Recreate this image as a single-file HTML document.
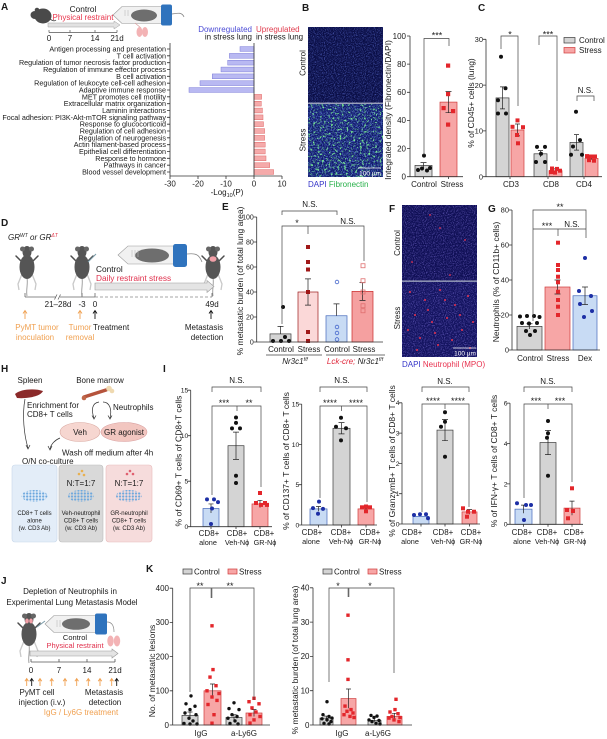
<!DOCTYPE html>
<html><head><meta charset="utf-8"><title>Figure</title>
<style>
html,body{margin:0;padding:0;background:#fff;width:607px;height:739px;overflow:hidden}
svg{display:block;font-family:"Liberation Sans",Arial,sans-serif;fill:#1a1a1a}
text{font-size:8px}
.m{text-anchor:middle}
.e{text-anchor:end}
.b{font-weight:bold;font-size:10px}
.c{font-size:7.2px;text-anchor:end}
.yl{font-size:8.5px;text-anchor:middle}
.s{font-size:9px;text-anchor:middle}
.tk{font-size:7.5px;text-anchor:end}
.ti{font-size:6.8px;text-anchor:end}
.x2{font-size:7.3px;text-anchor:middle}
.ax{stroke:#333;stroke-width:0.8;fill:none}
.br{stroke:#444;stroke-width:0.7;fill:none}
.gb{fill:#d4d4d4;stroke:#3a3a3a;stroke-width:0.7}
.pb{fill:#f7a6a6;stroke:#cf3a3a;stroke-width:0.7}
.lb{fill:#c8dbf4;stroke:#4468bb;stroke-width:0.7}
.er{stroke:#222;stroke-width:0.7;fill:none}
.k{fill:#111}
.r{fill:#e3262b}
.bl{fill:#1d2fa5}
.hb{fill:#b9b9f2;stroke:#7c7cd8;stroke-width:0.5}
.hr{fill:#f5aaaa;stroke:#e06a6a;stroke-width:0.5}
.or{fill:#f0a050}
.osk{stroke:#f0a050;stroke-width:0.9;fill:none}
.ksk{stroke:#111;stroke-width:0.9;fill:none}
.bx{font-size:6px;text-anchor:middle}
</style></head><body>
<svg width="607" height="739" viewBox="0 0 607 739" xmlns="http://www.w3.org/2000/svg">
<defs>
<filter id="nb" x="0" y="0" width="1" height="1">
<feTurbulence type="fractalNoise" baseFrequency="0.9" numOctaves="2" seed="4"/>
<feColorMatrix values="0 0 0 0 0.15  0 0 0 0 0.22  0 0 0 0 0.85  1.6 0 0 0 -0.72"/>
</filter>
<filter id="nb2" x="0" y="0" width="1" height="1">
<feTurbulence type="fractalNoise" baseFrequency="0.8" numOctaves="2" seed="7"/>
<feColorMatrix values="0 0 0 0 0.18  0 0 0 0 0.3  0 0 0 0 0.95  2.0 0 0 0 -0.85"/>
</filter>
<filter id="ng" x="0" y="0" width="1" height="1">
<feTurbulence type="fractalNoise" baseFrequency="0.45" numOctaves="2" seed="9"/>
<feColorMatrix values="0 0 0 0 0.2  0 0 0 0 0.9  0 0 0 0 0.3  5 0 0 0 -2.8"/>
</filter>
<filter id="nf" x="0" y="0" width="1" height="1">
<feTurbulence type="fractalNoise" baseFrequency="0.9" numOctaves="2" seed="12"/>
<feColorMatrix values="0 0 0 0 0.28  0 0 0 0 0.22  0 0 0 0 0.85  1.6 0 0 0 -0.74"/>
</filter>
<pattern id="cp" width="3.2" height="3" patternUnits="userSpaceOnUse">
<circle cx="1.6" cy="1.5" r="1.1" fill="#6aa6dd"/>
</pattern>
<g id="mt">
<path d="M-6,-5 L-11,-10 M6,-5 L11,-10" stroke="#4d4d4d" stroke-width="1.5" stroke-linecap="round"/>
<path d="M-5,8 L-9,18 L-8,24 M5,8 L9,18 L8,24" stroke="#c9c9c9" stroke-width="1.3" fill="none"/>
<path d="M0,12 C1,18 -1,24 0,30" stroke="#8a8a8a" stroke-width="0.8" fill="none"/>
<ellipse cx="0" cy="1" rx="7.5" ry="12" fill="#555"/>
<ellipse cx="0" cy="-14" rx="4.5" ry="6" fill="#555"/>
<circle cx="-4.5" cy="-17" r="2.5" fill="#666"/>
<circle cx="4.5" cy="-17" r="2.5" fill="#666"/>
</g>
</defs>

<!-- ================= PANEL A ================= -->
<text class="b" x="1" y="10">A</text>
<g fill="#4a4a4a">
<ellipse cx="43" cy="16" rx="8.5" ry="7.5"/>
<ellipse cx="35" cy="15" rx="4.5" ry="4"/>
<circle cx="37" cy="10" r="2.3"/>
</g>
<path d="M50,19 q4,3 6,1" stroke="#4a4a4a" stroke-width="0.8" fill="none"/>
<text class="m" x="83" y="12" style="font-size:8.3px">Control</text>
<text class="m" x="83" y="20" fill="#e8334a" style="font-size:8px">Physical restraint</text>
<path d="M48,23 H114 V21 L120,25 L114,29 V27 H48 Z" fill="#e2e2e2" stroke="#a0a0a0" stroke-width="0.5"/>
<path d="M113,15 L122,6.5 H162 V23.5 H122 Z" fill="#f1f1f1" stroke="#9a9a9a" stroke-width="0.6"/>
<ellipse cx="144" cy="15.5" rx="13" ry="6" fill="#6e6e6e"/>
<path d="M125,10 v6 M128,10 v6" stroke="#bbb" stroke-width="0.6"/>
<rect x="161" y="4.5" width="11" height="21" rx="2" fill="#2f73bd"/>
<path d="M172,14 C178,13 182,12 184,17" stroke="#888" stroke-width="0.8" fill="none"/>
<path d="M135,23 L141,28" stroke="#d9a0a0" stroke-width="0.8"/>
<ellipse cx="139.5" cy="32" rx="3" ry="5" fill="#f3b3b5"/>
<ellipse cx="145" cy="32" rx="3" ry="5" fill="#f3b3b5"/>
<path d="M49,32.5 H117 M49,30 V32.5 M70,30 V32.5 M95,30 V32.5 M117,30 V32.5" stroke="#555" stroke-width="0.7"/>
<text class="m" x="49" y="41">0</text>
<text class="m" x="70" y="41">7</text>
<text class="m" x="95" y="41">14</text>
<text class="m" x="117" y="41">21d</text>

<text class="e" x="252" y="32" fill="#4b4bd6">Downregulated</text>
<text x="256" y="32" fill="#e03c4e">Upregulated</text>
<text class="e" x="252" y="39.5">in stress lung</text>
<text x="256" y="39.5">in stress lung</text>

<g>
<rect class="hb" x="240" y="46.6" width="14" height="4.8"/>
<rect class="hb" x="229.4" y="53.43" width="24.6" height="4.8"/>
<rect class="hb" x="227.7" y="60.27" width="26.3" height="4.8"/>
<rect class="hb" x="221" y="67.1" width="33" height="4.8"/>
<rect class="hb" x="212.3" y="73.93" width="41.7" height="4.8"/>
<rect class="hb" x="200" y="80.77" width="54" height="4.8"/>
<rect class="hb" x="189" y="87.6" width="65" height="4.8"/>
<rect class="hr" x="254" y="94.43" width="7.6" height="4.8"/>
<rect class="hr" x="254" y="101.27" width="7.3" height="4.8"/>
<rect class="hr" x="254" y="108.1" width="8.4" height="4.8"/>
<rect class="hr" x="254" y="114.93" width="9" height="4.8"/>
<rect class="hr" x="254" y="121.77" width="9.5" height="4.8"/>
<rect class="hr" x="254" y="128.6" width="10.6" height="4.8"/>
<rect class="hr" x="254" y="135.43" width="10.6" height="4.8"/>
<rect class="hr" x="254" y="142.27" width="11.2" height="4.8"/>
<rect class="hr" x="254" y="149.1" width="11.2" height="4.8"/>
<rect class="hr" x="254" y="155.93" width="12" height="4.8"/>
<rect class="hr" x="254" y="162.77" width="15.7" height="4.8"/>
<rect class="hr" x="254" y="169.6" width="19.6" height="4.8"/>
</g>
<path class="ax" d="M170,43 V176 H282 M254,43 V176 M170,176 V179 M198,176 V179 M226,176 V179 M254,176 V179 M282,176 V179"/>
<path class="ax" d="M167,49 H170 M167,55.83 H170 M167,62.67 H170 M167,69.5 H170 M167,76.33 H170 M167,83.17 H170 M167,90 H170 M167,96.83 H170 M167,103.67 H170 M167,110.5 H170 M167,117.33 H170 M167,124.17 H170 M167,131 H170 M167,137.83 H170 M167,144.67 H170 M167,151.5 H170 M167,158.33 H170 M167,165.17 H170 M167,172 H170"/>
<text class="c" x="166" y="51.5">Antigen processing and presentation</text>
<text class="c" x="166" y="58.33">T cell activation</text>
<text class="c" x="166" y="65.17">Regulation of tumor necrosis factor production</text>
<text class="c" x="166" y="72">Regulation of immune effector process</text>
<text class="c" x="166" y="78.83">B cell activation</text>
<text class="c" x="166" y="85.67">Regulation of leukocyte cell-cell adhesion</text>
<text class="c" x="166" y="92.5">Adaptive immune response</text>
<text class="c" x="166" y="99.33">MET promotes cell motility</text>
<text class="c" x="166" y="106.17">Extracellular matrix organization</text>
<text class="c" x="166" y="113">Laminin interactions</text>
<text class="c" x="166" y="119.83">Focal adhesion: PI3K-Akt-mTOR signaling pathway</text>
<text class="c" x="166" y="126.67">Response to glucocorticoid</text>
<text class="c" x="166" y="133.5">Regulation of cell adhesion</text>
<text class="c" x="166" y="140.33">Regulation of neurogenesis</text>
<text class="c" x="166" y="147.17">Actin filament-based process</text>
<text class="c" x="166" y="154">Epithelial cell differentiation</text>
<text class="c" x="166" y="160.83">Response to hormone</text>
<text class="c" x="166" y="167.67">Pathways in cancer</text>
<text class="c" x="166" y="174.5">Blood vessel development</text>
<text class="m" x="170" y="186.5">-30</text>
<text class="m" x="198" y="186.5">-20</text>
<text class="m" x="226" y="186.5">-10</text>
<text class="m" x="254" y="186.5">0</text>
<text class="m" x="282" y="186.5">10</text>
<text class="m" x="227" y="195">-Log<tspan font-size="5.5" dy="2">10</tspan><tspan dy="-2">(P)</tspan></text>

<!-- ================= PANEL B ================= -->
<text class="b" x="302" y="11">B</text>
<rect x="308" y="27" width="75" height="150" fill="#0a0e46"/>
<rect x="308" y="27" width="75" height="76" filter="url(#nb)"/>
<rect x="308" y="104" width="75" height="73" fill="#0f1868"/>
<rect x="308" y="104" width="75" height="73" filter="url(#nb2)"/>
<rect x="308" y="104" width="75" height="73" filter="url(#ng)"/>
<rect x="308" y="102.6" width="75" height="1.3" fill="#aab0c8"/>
<path d="M358,168 H381" stroke="#fff" stroke-width="0.8"/>
<text class="m" x="370" y="175.5" fill="#fff" style="font-size:6.5px">100 µm</text>
<text transform="translate(305.5,63) rotate(-90)" class="m">Control</text>
<text transform="translate(305.5,140) rotate(-90)" class="m">Stress</text>
<text x="308" y="187"><tspan fill="#3535c8">DAPI</tspan> <tspan fill="#28b04a">Fibronectin</tspan></text>

<text class="yl" transform="translate(391,110) rotate(-90)">Integrated density (Fibronectin/DAPI)</text>
<rect class="gb" x="415" y="165.4" width="17" height="11.3"/>
<rect class="pb" x="440" y="102.1" width="17" height="74.6"/>
<path class="er" d="M423.5,162.6 V168.3 M420.5,162.6 H426.5 M448.5,91.6 V112.7 M445.5,91.6 H451.5 M445.5,112.7 H451.5"/>
<circle class="k" cx="424" cy="155.6" r="2"/>
<circle class="k" cx="418" cy="170" r="2"/>
<circle class="k" cx="422" cy="168.5" r="2"/>
<circle class="k" cx="427" cy="170.5" r="2"/>
<circle class="k" cx="430" cy="168" r="2"/>
<rect class="r" x="446" y="63.5" width="4.2" height="4.2"/>
<rect class="r" x="446" y="92" width="4.2" height="4.2"/>
<rect class="r" x="441.5" y="106" width="4.2" height="4.2"/>
<rect class="r" x="451" y="109" width="4.2" height="4.2"/>
<rect class="r" x="446" y="122.5" width="4.2" height="4.2"/>
<path class="ax" d="M410,36 V176.7 H463 M407,36 H410 M407,64.1 H410 M407,92.3 H410 M407,120.4 H410 M407,148.6 H410 M407,176.7 H410 M423.5,176.7 V179 M448.5,176.7 V179"/>
<text class="e" x="406" y="38.8">100</text>
<text class="e" x="406" y="66.9">80</text>
<text class="e" x="406" y="95.1">60</text>
<text class="e" x="406" y="123.2">40</text>
<text class="e" x="406" y="151.4">20</text>
<text class="e" x="406" y="179.5">0</text>
<text class="m" x="424" y="187">Control</text>
<text class="m" x="452" y="187">Stress</text>
<path class="br" d="M424,155 V38.5 H449 V46"/>
<text class="s" x="437" y="38.5">***</text>

<!-- ================= PANEL C ================= -->
<text class="b" x="478" y="11">C</text>
<text class="yl" transform="translate(474,103) rotate(-90)">% of CD45+ cells (lung)</text>
<rect class="gb" x="496" y="97.9" width="13" height="78.8"/>
<rect class="pb" x="511" y="130" width="13" height="46.7"/>
<rect class="gb" x="534" y="153.8" width="13" height="22.9"/>
<rect class="pb" x="549" y="170.7" width="13" height="6"/>
<rect class="gb" x="570" y="142.4" width="13" height="34.3"/>
<rect class="pb" x="585" y="158.4" width="13" height="18.3"/>
<path class="er" d="M502.5,86.9 V108.9 M500,86.9 H505 M500,108.9 H505 M517.5,124 V135.9 M515,124 H520 M515,135.9 H520 M540.5,150.6 V157 M538,150.6 H543 M555.5,168.9 V172.6 M553,168.9 H558 M576.5,134.6 V150.1 M574,134.6 H579 M574,150.1 H579 M591.5,157 V159.8 M589,157 H594"/>
<circle class="k" cx="501" cy="56.7" r="2"/>
<circle class="k" cx="505.5" cy="88.3" r="2"/>
<circle class="k" cx="498" cy="100.2" r="2"/>
<circle class="k" cx="498" cy="113.5" r="2"/>
<circle class="k" cx="506" cy="113.5" r="2"/>
<rect class="r" x="515.5" y="118.4" width="4" height="4"/>
<rect class="r" x="510.5" y="124.8" width="4" height="4"/>
<rect class="r" x="521" y="125.2" width="4" height="4"/>
<rect class="r" x="515" y="133" width="4" height="4"/>
<rect class="r" x="516" y="141.3" width="4" height="4"/>
<circle class="k" cx="537" cy="146.9" r="2"/>
<circle class="k" cx="545" cy="146.9" r="2"/>
<circle class="k" cx="541" cy="153.8" r="2"/>
<circle class="k" cx="536" cy="162" r="2"/>
<circle class="k" cx="545" cy="162" r="2"/>
<rect class="r" x="550" y="166.5" width="4" height="4"/>
<rect class="r" x="555" y="166.9" width="4" height="4"/>
<rect class="r" x="558" y="168.7" width="4" height="4"/>
<rect class="r" x="553" y="170.6" width="4" height="4"/>
<rect class="r" x="549" y="170.1" width="4" height="4"/>
<circle class="k" cx="576" cy="111.7" r="2"/>
<circle class="k" cx="580" cy="140.1" r="2"/>
<circle class="k" cx="573" cy="146.5" r="2"/>
<circle class="k" cx="571" cy="154.7" r="2"/>
<circle class="k" cx="582" cy="154.7" r="2"/>
<rect class="r" x="585" y="154.1" width="4" height="4"/>
<rect class="r" x="589" y="154.5" width="4" height="4"/>
<rect class="r" x="593" y="154.5" width="4" height="4"/>
<rect class="r" x="587" y="158.2" width="4" height="4"/>
<rect class="r" x="592" y="158.7" width="4" height="4"/>
<path class="ax" d="M486,39.3 V176.7 H602 M483,39.3 H486 M483,85.1 H486 M483,130.9 H486 M483,176.7 H486 M510,176.7 V179 M548,176.7 V179 M584,176.7 V179"/>
<text class="tk" x="483" y="42">30</text>
<text class="tk" x="483" y="87.8">20</text>
<text class="tk" x="483" y="133.6">10</text>
<text class="tk" x="483" y="179.4">0</text>
<text class="m" x="511" y="187">CD3</text>
<text class="m" x="551" y="187">CD8</text>
<text class="m" x="584" y="187">CD4</text>
<path class="br" d="M501,49 V36 H518 V106 M539,45 V36 H557 V161 M577,101 V96 H594 V101"/>
<text class="s" x="510" y="37.5">*</text>
<text class="s" x="548" y="37.5">***</text>
<text class="m" x="585.5" y="93">N.S.</text>
<rect class="gb" x="564" y="37.5" width="11" height="5.5"/>
<text x="579" y="43">Control</text>
<rect class="pb" x="564" y="47.5" width="11" height="5.5"/>
<text x="579" y="53">Stress</text>

<!-- ================= PANEL D ================= -->
<text class="b" x="1" y="226">D</text>
<text x="8" y="240" font-style="italic">GR<tspan font-size="5" dy="-3">WT</tspan><tspan dy="3"> or GR</tspan><tspan font-size="5" dy="-3" fill="#e0283c">ΔT</tspan></text>
<use href="#mt" x="27" y="266"/>
<use href="#mt" x="82" y="266"/>
<path d="M88,262 L96,254" stroke="#7a9aa8" stroke-width="1"/>
<use href="#mt" x="213" y="266"/>
<ellipse cx="213" cy="259" rx="3.5" ry="2.8" fill="#f2a0a8"/>
<path d="M118,255 L128,246 H174 V264 H128 Z" fill="#f1f1f1" stroke="#9a9a9a" stroke-width="0.6"/>
<ellipse cx="152" cy="255.5" rx="17" ry="7" fill="#6e6e6e"/>
<path d="M132,250 v7 M135,250 v7 M138,250 v7" stroke="#bbb" stroke-width="0.6"/>
<rect x="173" y="244" width="14" height="23" rx="2.5" fill="#2f73bd"/>
<path d="M187,254 C195,253 199,254 202,262" stroke="#888" stroke-width="0.8" fill="none"/>
<text x="96" y="272" style="font-size:8.3px">Control</text>
<text x="96" y="281" fill="#e0304c" style="font-size:8.3px">Daily restraint stress</text>
<path d="M95,283 H207 V280.5 L214,286.5 L207,292.5 V290 H95 Z" fill="#e4e4e4" stroke="#9a9a9a" stroke-width="0.6"/>
<path d="M25,297 H56 M60,297 H95 M54.5,299.5 L57,294.5 M58,299.5 L60.5,294.5 M25,293 V297 M82,293 V297 M95,293 V297 M212,293 V297" stroke="#666" stroke-width="0.8" fill="none"/>
<path d="M95,297 H212" stroke="#888" stroke-width="0.8" stroke-dasharray="3,2"/>
<text class="m" x="58" y="307">21–28d</text>
<text class="m" x="82" y="307">-3</text>
<text class="m" x="95" y="307">0</text>
<text class="m" x="212" y="307">49d</text>
<path class="osk" d="M25,319 V311 M23,313.5 L25,310.5 L27,313.5 M80,319 V311 M78,313.5 L80,310.5 L82,313.5"/>
<path class="ksk" d="M95,319 V311 M93,313.5 L95,310.5 L97,313.5 M211,319 V311 M209,313.5 L211,310.5 L213,313.5"/>
<text class="m" x="37" y="330" fill="#f0a050">PyMT tumor</text>
<text class="m" x="35" y="340" fill="#f0a050">inoculation</text>
<text class="m" x="80" y="330" fill="#f0a050">Tumor</text>
<text class="m" x="80" y="340" fill="#f0a050">removal</text>
<text x="93" y="330">Treatment</text>
<text class="m" x="204" y="330">Metastasis</text>
<text class="m" x="207" y="340">detection</text>

<!-- ================= PANEL E ================= -->
<text class="b" x="222" y="210">E</text>
<text class="yl" transform="translate(243,281) rotate(-90)">% metastatic burden (of total lung area)</text>
<rect class="gb" x="270" y="333.9" width="21" height="8.1"/>
<rect x="298" y="292" width="20" height="50" fill="#fbd8d8" stroke="#9b1b1b" stroke-width="0.7"/>
<rect class="lb" x="326" y="315.75" width="21" height="26.25"/>
<rect x="352" y="291.4" width="21" height="50.6" fill="#f5a0a0" stroke="#c82828" stroke-width="0.7"/>
<path class="er" d="M280.5,326.4 V333.9 M277.5,326.4 H283.5 M308,278.9 V305.1 M305,278.9 H311 M305,305.1 H311 M336.5,303.9 V315.75 M333.5,303.9 H339.5 M362.5,282.6 V300.4 M359.5,282.6 H365.5 M359.5,300.4 H365.5"/>
<circle class="k" cx="283" cy="307" r="2"/>
<circle class="k" cx="273" cy="341" r="2"/>
<circle class="k" cx="281" cy="341" r="2"/>
<circle class="k" cx="289" cy="341" r="2"/>
<circle class="k" cx="285" cy="337" r="2"/>
<g fill="#a01818">
<rect x="306" y="245" width="4" height="4"/>
<rect x="306" y="260" width="4" height="4"/>
<rect x="306" y="267.5" width="4" height="4"/>
<rect x="306" y="290" width="4" height="4"/>
<rect x="306" y="330" width="4" height="4"/>
<rect x="306" y="339" width="4" height="4"/>
</g>
<g fill="none" stroke="#4466cc" stroke-width="0.8">
<circle cx="337" cy="282" r="1.8"/>
<circle cx="337" cy="327" r="1.8"/>
<circle cx="337" cy="333" r="1.8"/>
<circle cx="337" cy="339.5" r="1.8"/>
</g>
<g fill="none" stroke="#e07070" stroke-width="0.8">
<rect x="361" y="263.75" width="4" height="4"/>
<rect x="361" y="278.75" width="4" height="4"/>
<rect x="361" y="290" width="4" height="4"/>
<rect x="361" y="303.75" width="4" height="4"/>
<rect x="361" y="308.75" width="4" height="4"/>
</g>
<path class="ax" d="M256.7,217 V342 H383 M253.7,217 H256.7 M253.7,242 H256.7 M253.7,267 H256.7 M253.7,292 H256.7 M253.7,317 H256.7 M253.7,342 H256.7"/>
<text class="e" x="253.8" y="219.6" style="font-size:7px">100</text>
<text class="e" x="253.8" y="244.6" style="font-size:7px">80</text>
<text class="e" x="253.8" y="269.6" style="font-size:7px">60</text>
<text class="e" x="253.8" y="294.6" style="font-size:7px">40</text>
<text class="e" x="253.8" y="319.6" style="font-size:7px">20</text>
<text class="e" x="253.8" y="344.6" style="font-size:7px">0</text>
<text class="m" x="281" y="352">Control</text>
<text class="m" x="309" y="352">Stress</text>
<text class="m" x="337" y="352">Control</text>
<text class="m" x="364" y="352">Stress</text>
<path d="M266,355 H322 M326,355 H385" stroke="#444" stroke-width="0.7"/>
<text class="m" x="295" y="364" font-style="italic">Nr3c1<tspan font-size="5" dy="-3">f/f</tspan></text>
<text class="m" x="355" y="364" font-style="italic"><tspan fill="#e0283c">Lck-cre;</tspan> Nr3c1<tspan font-size="5" dy="-3">f/f</tspan></text>
<path class="br" d="M282,215 V211 H337 V215"/>
<path class="br" d="M282,324 V226 H364 V261 M308,226 V234"/>
<text class="m" x="310" y="207">N.S.</text>
<text class="s" x="297" y="226">*</text>
<text class="m" x="348" y="224">N.S.</text>

<!-- ================= PANEL F ================= -->
<text class="b" x="389" y="212">F</text>
<rect x="402" y="205" width="75" height="152" fill="#0f0f55"/>
<rect x="402" y="205" width="75" height="76" filter="url(#nf)"/>
<rect x="402" y="282" width="75" height="75" fill="#13135f"/>
<rect x="402" y="282" width="75" height="75" filter="url(#nf)"/>
<rect x="402" y="280.5" width="75" height="1.3" fill="#aab0c8"/>
<g fill="#e8324f">
<circle cx="430" cy="215" r="0.9"/><circle cx="465" cy="240" r="0.9"/><circle cx="412" cy="262" r="0.9"/><circle cx="450" cy="275" r="0.9"/><circle cx="440" cy="228" r="0.9"/>
<circle cx="410" cy="292" r="1"/><circle cx="425" cy="300" r="1"/><circle cx="440" cy="290" r="1"/><circle cx="455" cy="305" r="1"/><circle cx="468" cy="296" r="1"/>
<circle cx="415" cy="315" r="1"/><circle cx="432" cy="322" r="1"/><circle cx="447" cy="318" r="1"/><circle cx="462" cy="330" r="1"/><circle cx="420" cy="338" r="1"/>
<circle cx="438" cy="345" r="1"/><circle cx="452" cy="340" r="1"/><circle cx="470" cy="348" r="1"/><circle cx="408" cy="330" r="1"/><circle cx="428" cy="310" r="1"/>
<circle cx="445" cy="300" r="1"/><circle cx="460" cy="315" r="1"/><circle cx="473" cy="322" r="1"/><circle cx="417" cy="350" r="1"/><circle cx="435" cy="333" r="1"/>
</g>
<path d="M453,348 H476" stroke="#fff" stroke-width="0.8"/>
<text class="m" x="465" y="355.5" fill="#fff" style="font-size:6.5px">100 µm</text>
<text transform="translate(400,243) rotate(-90)" class="m">Control</text>
<text transform="translate(400,318) rotate(-90)" class="m">Stress</text>
<text x="402" y="367"><tspan fill="#3535c8">DAPI</tspan> <tspan fill="#e8324f">Neutrophil (MPO)</tspan></text>

<!-- ================= PANEL G ================= -->
<text class="b" x="488" y="212">G</text>
<text class="yl" transform="translate(499,282) rotate(-90)">Neutrophils (% of CD11b+ cells)</text>
<rect class="gb" x="517" y="326.4" width="25" height="23.6"/>
<rect class="pb" x="545" y="287" width="25" height="63"/>
<rect class="lb" x="573" y="295.75" width="24" height="54.25"/>
<path class="er" d="M529.5,323.75 V329 M526.5,323.75 H532.5 M557.5,280 V294 M554.5,280 H560.5 M554.5,294 H560.5 M585,287 V304.5 M582,287 H588 M582,304.5 H588"/>
<circle class="k" cx="520" cy="316.5" r="2"/>
<circle class="k" cx="527" cy="316" r="2"/>
<circle class="k" cx="534" cy="316" r="2"/>
<circle class="k" cx="539.5" cy="317" r="2"/>
<circle class="k" cx="522" cy="323" r="2"/>
<circle class="k" cx="529" cy="323.5" r="2"/>
<circle class="k" cx="537" cy="323" r="2"/>
<circle class="k" cx="526" cy="331" r="2"/>
<circle class="k" cx="535" cy="331" r="2"/>
<circle class="k" cx="530" cy="335" r="2"/>
<rect class="r" x="556" y="240.7" width="4" height="4"/>
<rect class="r" x="556" y="263" width="4" height="4"/>
<rect class="r" x="556" y="268" width="4" height="4"/>
<rect class="r" x="556" y="274.7" width="4" height="4"/>
<rect class="r" x="556" y="280.3" width="4" height="4"/>
<rect class="r" x="556" y="289.7" width="4" height="4"/>
<rect class="r" x="556" y="298" width="4" height="4"/>
<rect class="r" x="556" y="304.7" width="4" height="4"/>
<rect class="r" x="556" y="313" width="4" height="4"/>
<circle class="bl" cx="585" cy="258" r="2"/>
<circle class="bl" cx="579" cy="291" r="2"/>
<circle class="bl" cx="591" cy="296" r="2"/>
<circle class="bl" cx="580" cy="304" r="2"/>
<circle class="bl" cx="592" cy="311" r="2"/>
<circle class="bl" cx="584" cy="317" r="2"/>
<path class="ax" d="M512,210 V350 H600 M509,210 H512 M509,245 H512 M509,280 H512 M509,315 H512 M509,350 H512"/>
<text class="tk" x="509" y="212.7">80</text>
<text class="tk" x="509" y="247.7">60</text>
<text class="tk" x="509" y="282.7">40</text>
<text class="tk" x="509" y="317.7">20</text>
<text class="tk" x="509" y="352.7">0</text>
<text class="m" x="530" y="361">Control</text>
<text class="m" x="558" y="361">Stress</text>
<text class="m" x="585" y="361">Dex</text>
<path class="br" d="M533,321 V210 H586 V238 M533,229 H586 M558,229 V236"/>
<text class="s" x="560" y="210">**</text>
<text class="s" x="547" y="229">***</text>
<text class="m" x="572" y="227">N.S.</text>

<!-- ================= PANEL H ================= -->
<text class="b" x="1" y="372">H</text>
<text class="m" x="30" y="383">Spleen</text>
<text class="m" x="100" y="383">Bone marrow</text>
<path d="M15,394 C20,389 35,388 43,391 C41,396 28,399 17,398 Z" fill="#8b2a2a"/>
<path d="M84,397 L106,390" stroke="#b5533c" stroke-width="3.5" stroke-linecap="round"/>
<circle cx="84" cy="398" r="2.3" fill="#c0684a"/>
<circle cx="109" cy="388.5" r="2.8" fill="#efd9b0"/>
<circle cx="112" cy="391" r="2.3" fill="#efd9b0"/>
<text x="27" y="408">Enrichment for</text>
<text x="27" y="417">CD8+ T cells</text>
<text x="113" y="410">Neutrophils</text>
<path d="M99,402 C92,403 91,410 94,418" stroke="#333" stroke-width="0.7" fill="none"/>
<path d="M92,415.5 L94,419 L96,415.5" stroke="#333" stroke-width="0.7" fill="none"/>
<path d="M103,402 C110,402 112,410 110,418" stroke="#333" stroke-width="0.7" fill="none"/>
<path d="M108,415.5 L110,419 L112,415.5" stroke="#333" stroke-width="0.7" fill="none"/>
<path d="M25,399 C22,415 24,435 28,448" stroke="#333" stroke-width="0.7" fill="none"/>
<path d="M26,445 L28,449 L30,445" stroke="#333" stroke-width="0.7" fill="none"/>
<path d="M60,438 C55,440 51,444 50,449" stroke="#333" stroke-width="0.7" fill="none"/>
<path d="M48,446 L50,450 L52,446" stroke="#333" stroke-width="0.7" fill="none"/>
<ellipse cx="80" cy="432" rx="20" ry="9.5" fill="#f6d6d0" stroke="#d9a8a0" stroke-width="0.6"/>
<ellipse cx="124" cy="432" rx="23" ry="9.5" fill="#f2c6c0" stroke="#d9a0a0" stroke-width="0.6"/>
<text class="m" x="80" y="435">Veh</text>
<text class="m" x="124" y="435">GR agonist</text>
<text x="62" y="455.5">Wash off medium after 4h</text>
<text x="22" y="464">O/N co-culture</text>
<rect x="12" y="465" width="45" height="77" rx="3" fill="#e3edf8" stroke="#c8d8ea" stroke-width="0.6"/>
<rect x="59" y="465" width="44" height="77" rx="3" fill="#d9d9d9" stroke="#bdbdbd" stroke-width="0.6"/>
<rect x="106" y="465" width="46" height="77" rx="3" fill="#f6dcdc" stroke="#e8bbbb" stroke-width="0.6"/>
<g fill="#e8b050"><circle cx="79" cy="474" r="1.3"/><circle cx="82" cy="471" r="1.3"/><circle cx="84" cy="475" r="1.3"/></g>
<g fill="#e06070"><circle cx="127" cy="474" r="1.3"/><circle cx="130" cy="471" r="1.3"/><circle cx="133" cy="474" r="1.3"/></g>
<text class="m" x="81" y="486">N:T=1:7</text>
<text class="m" x="129" y="486">N:T=1:7</text>
<ellipse cx="34.5" cy="496" rx="13" ry="6" fill="url(#cp)"/>
<ellipse cx="81" cy="496" rx="13" ry="6" fill="url(#cp)"/>
<ellipse cx="129" cy="496" rx="13" ry="6" fill="url(#cp)"/>
<text class="bx" x="34.5" y="515">CD8+ T cells</text>
<text class="bx" x="34.5" y="522.5">alone</text>
<text class="bx" x="34.5" y="530">(w. CD3 Ab)</text>
<text class="bx" x="81" y="515">Veh-neutrophil</text>
<text class="bx" x="81" y="522.5">CD8+ T cells</text>
<text class="bx" x="81" y="530">(w. CD3 Ab)</text>
<text class="bx" x="129" y="515">GR-neutrophil</text>
<text class="bx" x="129" y="522.5">CD8+ T cells</text>
<text class="bx" x="129" y="530">(w. CD3 Ab)</text>

<!-- ================= PANEL I ================= -->
<text class="b" x="163" y="372">I</text>
<!-- I1 -->
<text class="yl" transform="translate(181.5,461) rotate(-90)">% of CD69+ T cells of CD8+T cells</text>
<rect class="lb" x="203" y="508.5" width="16" height="18.2"/>
<rect class="gb" x="228" y="445.7" width="16" height="81"/>
<rect class="pb" x="252" y="503.95" width="16" height="22.75"/>
<path class="er" d="M211,503.95 V513.05 M208.5,503.95 H213.5 M236,432.1 V459.4 M233,432.1 H239 M233,459.4 H239 M260,500.3 V507.6 M257.5,500.3 H262.5"/>
<circle class="bl" cx="207" cy="499.4" r="2"/><circle class="bl" cx="214" cy="499.4" r="2"/><circle class="bl" cx="218" cy="502.1" r="2"/><circle class="bl" cx="212" cy="508.5" r="2"/><circle class="bl" cx="211" cy="524" r="2"/>
<circle class="k" cx="236" cy="417.5" r="2"/><circle class="k" cx="236" cy="422.9" r="2"/><circle class="k" cx="232" cy="428.4" r="2"/><circle class="k" cx="240" cy="428.4" r="2"/><circle class="k" cx="236" cy="475.7" r="2"/><circle class="k" cx="236" cy="483" r="2"/>
<rect class="r" x="258" y="491" width="4" height="4"/><rect class="r" x="254" y="501" width="4" height="4"/><rect class="r" x="259" y="502.9" width="4" height="4"/><rect class="r" x="263" y="501" width="4" height="4"/><rect class="r" x="265" y="502.9" width="4" height="4"/>
<path class="ax" d="M190.7,390.2 V526.7 H272 M187.7,390.2 H190.7 M187.7,435.7 H190.7 M187.7,481.2 H190.7 M187.7,526.7 H190.7 M211,526.7 V529 M236,526.7 V529 M260,526.7 V529"/>
<text class="ti" x="188.3" y="392.6">15</text>
<text class="ti" x="188.3" y="438.1">10</text>
<text class="ti" x="188.3" y="483.6">5</text>
<text class="ti" x="188.3" y="529.1">0</text>
<text class="m" x="209" y="536">CD8+</text><text class="m" x="237" y="536">CD8+</text><text class="m" x="264" y="536">CD8+</text>
<text class="x2" x="208" y="545">alone</text><text class="x2" x="237" y="545">Veh-Nϕ</text><text class="x2" x="265" y="545">GR-Nϕ</text>
<path class="br" d="M212,392 V387 H261 V392 M212,495 V406 H261 V487 M237,406 V411"/>
<text class="m" x="237" y="383">N.S.</text>
<text class="s" x="224" y="406">***</text>
<text class="s" x="249" y="406">**</text>

<!-- I2 -->
<text class="yl" transform="translate(289,461) rotate(-90)">% of CD137+ T cells of CD8+ T cells</text>
<rect class="lb" x="310" y="508.9" width="17" height="16.1"/>
<rect class="gb" x="333" y="428.3" width="17" height="96.7"/>
<rect class="pb" x="358" y="508.9" width="16" height="16.1"/>
<path class="er" d="M318.5,506.5 V511.3 M316,506.5 H321 M341.5,422.6 V433.9 M338.5,422.6 H344.5 M338.5,433.9 H344.5 M366,507.3 V510.5 M363.5,507.3 H368.5"/>
<circle class="bl" cx="319" cy="501.6" r="2"/><circle class="bl" cx="313" cy="508.1" r="2"/><circle class="bl" cx="323" cy="508.9" r="2"/><circle class="bl" cx="318" cy="513.7" r="2"/>
<circle class="k" cx="341" cy="417.8" r="2"/><circle class="k" cx="336" cy="426.7" r="2"/><circle class="k" cx="346" cy="428.3" r="2"/><circle class="k" cx="341" cy="440.4" r="2"/>
<rect class="r" x="360" y="505.3" width="4" height="4"/><rect class="r" x="364" y="504.5" width="4" height="4"/><rect class="r" x="368" y="505.3" width="4" height="4"/><rect class="r" x="364" y="509.3" width="4" height="4"/>
<path class="ax" d="M301.7,404.1 V525 H377 M298.7,404.1 H301.7 M298.7,444.4 H301.7 M298.7,484.7 H301.7 M298.7,525 H301.7 M318.5,525 V527.5 M341.5,525 V527.5 M366,525 V527.5"/>
<text class="ti" x="299.3" y="406.5">15</text>
<text class="ti" x="299.3" y="446.8">10</text>
<text class="ti" x="299.3" y="487.1">5</text>
<text class="ti" x="299.3" y="527.4">0</text>
<text class="m" x="312" y="535">CD8+</text><text class="m" x="341" y="535">CD8+</text><text class="m" x="370" y="535">CD8+</text>
<text class="x2" x="311" y="544">alone</text><text class="x2" x="341" y="544">Veh-Nϕ</text><text class="x2" x="370" y="544">GR-Nϕ</text>
<path class="br" d="M320,392 V387 H367 V392 M320,498 V406 H367 V502 M341.5,406 V411"/>
<text class="m" x="342" y="383">N.S.</text>
<text class="s" x="330" y="406">****</text>
<text class="s" x="356" y="406">****</text>

<!-- I3 -->
<text class="yl" transform="translate(395,461) rotate(-90)">% of GranzymB+ T cells of CD8+ T cells</text>
<rect class="lb" x="413" y="516.4" width="16" height="7.6"/>
<rect class="gb" x="437" y="430.1" width="16" height="93.9"/>
<rect class="pb" x="462" y="511.9" width="15" height="12.1"/>
<path class="er" d="M445,419.5 V440.7 M442,419.5 H448 M442,440.7 H448 M469.5,509.5 V514.3 M467,509.5 H472"/>
<circle class="bl" cx="414" cy="515" r="2"/><circle class="bl" cx="420" cy="514.3" r="2"/><circle class="bl" cx="426" cy="514.3" r="2"/><circle class="bl" cx="428" cy="518.3" r="2"/>
<circle class="k" cx="445" cy="412.3" r="2"/><circle class="k" cx="445" cy="421.7" r="2"/><circle class="k" cx="441" cy="426.7" r="2"/><circle class="k" cx="445" cy="456.7" r="2"/>
<rect class="r" x="461" y="506.3" width="4" height="4"/><rect class="r" x="466" y="509.7" width="4" height="4"/><rect class="r" x="472" y="509.7" width="4" height="4"/><rect class="r" x="465" y="514.7" width="4" height="4"/>
<path class="ax" d="M402,402.8 V524 H480 M399,402.8 H402 M399,433.1 H402 M399,463.4 H402 M399,493.7 H402 M399,524 H402 M421,524 V526.5 M445,524 V526.5 M469.5,524 V526.5"/>
<text class="ti" x="399.5" y="405.2">4</text>
<text class="ti" x="399.5" y="435.5">3</text>
<text class="ti" x="399.5" y="465.8">2</text>
<text class="ti" x="399.5" y="496.1">1</text>
<text class="ti" x="399.5" y="526.4">0</text>
<text class="m" x="412" y="535">CD8+</text><text class="m" x="443" y="535">CD8+</text><text class="m" x="471" y="535">CD8+</text>
<text class="x2" x="410" y="544">alone</text><text class="x2" x="443" y="544">Veh-Nϕ</text><text class="x2" x="471" y="544">GR-Nϕ</text>
<path class="br" d="M422,392 V387 H469 V392 M422,512 V404 H469 V507 M445,404 V409"/>
<text class="m" x="445" y="384">N.S.</text>
<text class="s" x="433" y="404">****</text>
<text class="s" x="458" y="404">****</text>

<!-- I4 -->
<text class="yl" transform="translate(497,461) rotate(-90)">% of IFN-γ+ T cells of CD8+ T cells</text>
<rect class="lb" x="515" y="509.15" width="17" height="15.15"/>
<rect class="gb" x="540" y="442.5" width="16" height="81.8"/>
<rect class="pb" x="564" y="508.1" width="16" height="16.2"/>
<path class="er" d="M523.5,505.1 V513.2 M521,505.1 H526 M548,430.4 V454.6 M545,430.4 H551 M545,454.6 H551 M572,501.1 V515.2 M569.5,501.1 H574.5"/>
<circle class="bl" cx="517" cy="503.3" r="2"/><circle class="bl" cx="526" cy="505" r="2"/><circle class="bl" cx="531" cy="505" r="2"/><circle class="bl" cx="524" cy="520" r="2"/>
<circle class="k" cx="548" cy="421" r="2"/><circle class="k" cx="548" cy="433.3" r="2"/><circle class="k" cx="547" cy="437.7" r="2"/><circle class="k" cx="548" cy="475.7" r="2"/>
<rect class="r" x="570" y="486.3" width="4" height="4"/><rect class="r" x="565" y="508" width="4" height="4"/><rect class="r" x="571" y="509" width="4" height="4"/><rect class="r" x="566" y="516.3" width="4" height="4"/>
<path class="ax" d="M510,403.1 V524.3 H583 M507,403.1 H510 M507,443.5 H510 M507,483.9 H510 M507,524.3 H510 M523.5,524.3 V526.8 M548,524.3 V526.8 M572,524.3 V526.8"/>
<text class="ti" x="507.5" y="405.5">6</text>
<text class="ti" x="507.5" y="445.9">4</text>
<text class="ti" x="507.5" y="486.3">2</text>
<text class="ti" x="507.5" y="526.7">0</text>
<text class="m" x="522" y="535">CD8+</text><text class="m" x="547" y="535">CD8+</text><text class="m" x="574" y="535">CD8+</text>
<text class="x2" x="522" y="544">alone</text><text class="x2" x="547" y="544">Veh-Nϕ</text><text class="x2" x="575" y="544">GR-Nϕ</text>
<path class="br" d="M524,392 V387 H572 V392 M524,498 V404 H572 V482 M548,404 V409"/>
<text class="m" x="548" y="384">N.S.</text>
<text class="s" x="536" y="404">***</text>
<text class="s" x="560" y="404">***</text>

<!-- ================= PANEL J ================= -->
<text class="b" x="1" y="584">J</text>
<text class="m" x="70" y="594" style="font-size:8px">Depletion of Neutrophils in</text>
<text class="m" x="72" y="605" style="font-size:8px">Experimental Lung Metastasis Model</text>
<use href="#mt" x="29" y="633"/>
<ellipse cx="27" cy="621" rx="1.8" ry="2.5" fill="#f2a0a8"/>
<ellipse cx="31" cy="621" rx="1.8" ry="2.5" fill="#f2a0a8"/>
<path d="M37,627 L45,621" stroke="#7a9aa8" stroke-width="1"/>
<path d="M45,624 L54,615.5 H96 V632.5 H54 Z" fill="#f1f1f1" stroke="#9a9a9a" stroke-width="0.6"/>
<ellipse cx="76" cy="624" rx="14" ry="5.8" fill="#6e6e6e"/>
<path d="M57,620 v7 M60,620 v7" stroke="#bbb" stroke-width="0.6"/>
<rect x="95" y="613.5" width="12" height="21" rx="2" fill="#2f73bd"/>
<path d="M107,622 C112,622 114,626 114,632" stroke="#888" stroke-width="0.7" fill="none"/>
<ellipse cx="110.5" cy="641" rx="3.2" ry="5.5" fill="#f3b3b5"/>
<ellipse cx="117" cy="641" rx="3.2" ry="5.5" fill="#f3b3b5"/>
<text class="m" x="75" y="640" style="font-size:7.5px">Control</text>
<text class="m" x="75" y="648" fill="#e0304c" style="font-size:7.5px">Physical restraint</text>
<path d="M30,651 H112 V649 L118,653.5 L112,658 V656 H30 Z" fill="#e4e4e4" stroke="#9a9a9a" stroke-width="0.6"/>
<path d="M31,662 H115 M31,659 V662 M59,659 V662 M87,659 V662 M115,659 V662" stroke="#555" stroke-width="0.8"/>
<text class="m" x="31" y="673">0</text>
<text class="m" x="59" y="673">7</text>
<text class="m" x="87" y="673">14</text>
<text class="m" x="115" y="673">21d</text>
<path class="osk" d="M26.7,686 V679 M24.9,681.2 L26.7,678.5 L28.5,681.2 M40,686 V679 M38.2,681.2 L40,678.5 L41.8,681.2 M51.7,686 V679 M49.9,681.2 L51.7,678.5 L53.5,681.2 M65,686 V679 M63.2,681.2 L65,678.5 L66.8,681.2 M76.7,686 V679 M74.9,681.2 L76.7,678.5 L78.5,681.2 M88.3,686 V679 M86.5,681.2 L88.3,678.5 L90.1,681.2 M100,686 V679 M98.2,681.2 L100,678.5 L101.8,681.2 M111.7,686 V679 M109.9,681.2 L111.7,678.5 L113.5,681.2"/>
<path class="ksk" d="M31.7,686 V679 M29.9,681.2 L31.7,678.5 L33.5,681.2 M116.7,686 V679 M114.9,681.2 L116.7,678.5 L118.5,681.2"/>
<text class="m" x="37" y="695">PyMT cell</text>
<text class="m" x="42" y="705">injection (i.v.)</text>
<text class="m" x="104" y="695">Metastasis</text>
<text class="m" x="105" y="705">detection</text>
<text class="m" x="81" y="715" fill="#f0a050">IgG / Ly6G treatment</text>

<!-- ================= PANEL K ================= -->
<text class="b" x="146" y="572">K</text>
<!-- K1 -->
<rect class="gb" x="183" y="569" width="9" height="5"/>
<text x="194" y="574.5">Control</text>
<rect class="pb" x="228" y="569" width="9" height="5"/>
<text x="239" y="574.5">Stress</text>
<text class="yl" transform="translate(155,671) rotate(-90)">No. of metastatic lesions</text>
<rect class="gb" x="182" y="715.4" width="16" height="9.6"/>
<rect class="pb" x="204" y="690.8" width="17" height="34.2"/>
<rect class="gb" x="226" y="717.5" width="16" height="7.5"/>
<rect class="pb" x="246" y="713" width="16" height="12"/>
<path class="er" d="M190,712 V718.8 M187.5,712 H192.5 M212.5,684 V697.6 M210,684 H215 M234,714.7 V720.2 M231.5,714.7 H236.5 M254,709.6 V716.5 M251.5,709.6 H256.5"/>
<g class="k">
<circle cx="191" cy="695.9" r="1.7"/><circle cx="186" cy="703.8" r="1.7"/><circle cx="195" cy="706.2" r="1.7"/><circle cx="190" cy="709.6" r="1.7"/><circle cx="185" cy="713" r="1.7"/><circle cx="196" cy="714.7" r="1.7"/><circle cx="189" cy="718.2" r="1.7"/><circle cx="193" cy="720.9" r="1.7"/><circle cx="184" cy="723.5" r="1.7"/><circle cx="190" cy="724" r="1.7"/><circle cx="197" cy="724" r="1.7"/>
<circle cx="234" cy="702.8" r="1.7"/><circle cx="229" cy="708.6" r="1.7"/><circle cx="239" cy="709.6" r="1.7"/><circle cx="232" cy="714.7" r="1.7"/><circle cx="237" cy="716.5" r="1.7"/><circle cx="228" cy="718.2" r="1.7"/><circle cx="235" cy="720.9" r="1.7"/><circle cx="230" cy="723.5" r="1.7"/><circle cx="238" cy="724" r="1.7"/>
</g>
<g class="r">
<rect x="210.3" y="624.1" width="3.4" height="3.4"/><rect x="211.3" y="667.9" width="3.4" height="3.4"/><rect x="208.3" y="675.4" width="3.4" height="3.4"/><rect x="214.3" y="684" width="3.4" height="3.4"/><rect x="205.3" y="689.1" width="3.4" height="3.4"/><rect x="217.3" y="691.8" width="3.4" height="3.4"/><rect x="210.3" y="695.3" width="3.4" height="3.4"/><rect x="215.3" y="698.7" width="3.4" height="3.4"/><rect x="206.3" y="702.8" width="3.4" height="3.4"/><rect x="212.3" y="713" width="3.4" height="3.4"/><rect x="210.3" y="721.5" width="3.4" height="3.4"/>
<rect x="252.3" y="696.6" width="3.4" height="3.4"/><rect x="247.3" y="700" width="3.4" height="3.4"/><rect x="257.3" y="702.1" width="3.4" height="3.4"/><rect x="250.3" y="706.2" width="3.4" height="3.4"/><rect x="254.3" y="710.3" width="3.4" height="3.4"/><rect x="248.3" y="713" width="3.4" height="3.4"/><rect x="258.3" y="714.8" width="3.4" height="3.4"/><rect x="252.3" y="718.2" width="3.4" height="3.4"/><rect x="248.3" y="721.4" width="3.4" height="3.4"/>
</g>
<path class="ax" d="M172.7,588.2 V725 H270 M169.7,588.2 H172.7 M169.7,622.4 H172.7 M169.7,656.6 H172.7 M169.7,690.8 H172.7 M169.7,725 H172.7"/>
<text class="e" x="169" y="591">400</text>
<text class="e" x="169" y="625.2">300</text>
<text class="e" x="169" y="659.4">200</text>
<text class="e" x="169" y="693.6">100</text>
<text class="e" x="169" y="727.8">0</text>
<text class="m" x="201" y="736">IgG</text>
<text class="m" x="244" y="736">a-Ly6G</text>
<path class="br" d="M190,692 V588 H254 V700"/>
<path d="M211.5,588 V598" stroke="#666" stroke-width="1.6"/>
<text class="s" x="200" y="589">**</text>
<text class="s" x="230" y="589">**</text>

<!-- K2 -->
<rect class="gb" x="323" y="569" width="9" height="5"/>
<text x="334" y="574.5">Control</text>
<rect class="pb" x="368" y="569" width="9" height="5"/>
<text x="379" y="574.5">Stress</text>
<text class="yl" transform="translate(298,660) rotate(-90)">% metastatic burden (of total lung area)</text>
<rect class="gb" x="320" y="718.1" width="13" height="6.9"/>
<rect class="pb" x="341" y="698.6" width="15" height="26.4"/>
<rect class="gb" x="368" y="720.5" width="13" height="4.5"/>
<rect class="pb" x="387" y="716.4" width="15" height="8.6"/>
<path class="er" d="M326.5,716.1 V720.2 M324,716.1 H329 M348.5,689 V708.2 M346,689 H351 M374.5,719.2 V721.9 M394.5,713.3 V719.5 M392,713.3 H397"/>
<g class="k">
<circle cx="327" cy="701.7" r="1.7"/><circle cx="323" cy="714.7" r="1.7"/><circle cx="329" cy="716.4" r="1.7"/><circle cx="332" cy="718.1" r="1.7"/><circle cx="322" cy="718.8" r="1.7"/><circle cx="327" cy="719.9" r="1.7"/><circle cx="331" cy="721.6" r="1.7"/><circle cx="324" cy="723.3" r="1.7"/><circle cx="329" cy="724" r="1.7"/>
<circle cx="371" cy="715.4" r="1.7"/><circle cx="377" cy="716.1" r="1.7"/><circle cx="374" cy="717.5" r="1.7"/><circle cx="369" cy="719.9" r="1.7"/><circle cx="379" cy="720.5" r="1.7"/><circle cx="372" cy="721.6" r="1.7"/><circle cx="376" cy="723.3" r="1.7"/><circle cx="380" cy="724" r="1.7"/>
</g>
<g class="r">
<rect x="346.3" y="613.5" width="3.4" height="3.4"/><rect x="346.3" y="658.1" width="3.4" height="3.4"/><rect x="346.3" y="677.7" width="3.4" height="3.4"/><rect x="343.3" y="704.4" width="3.4" height="3.4"/><rect x="349.3" y="707.9" width="3.4" height="3.4"/><rect x="345.3" y="709.6" width="3.4" height="3.4"/><rect x="351.3" y="711.3" width="3.4" height="3.4"/><rect x="342.3" y="713" width="3.4" height="3.4"/><rect x="348.3" y="714.7" width="3.4" height="3.4"/><rect x="352.3" y="715.8" width="3.4" height="3.4"/>
<rect x="394.3" y="697.6" width="3.4" height="3.4"/><rect x="393.3" y="707.9" width="3.4" height="3.4"/><rect x="388.3" y="710.3" width="3.4" height="3.4"/><rect x="396.3" y="712" width="3.4" height="3.4"/><rect x="390.3" y="714.7" width="3.4" height="3.4"/><rect x="398.3" y="715.8" width="3.4" height="3.4"/><rect x="387.3" y="716.4" width="3.4" height="3.4"/><rect x="392.3" y="718.2" width="3.4" height="3.4"/><rect x="397.3" y="719.9" width="3.4" height="3.4"/>
</g>
<path class="ax" d="M313,587.8 V725 H412 M310,587.8 H313 M310,622.1 H313 M310,656.4 H313 M310,690.7 H313 M310,725 H313"/>
<text class="e" x="309.5" y="590.6">40</text>
<text class="e" x="309.5" y="624.9">30</text>
<text class="e" x="309.5" y="659.2">20</text>
<text class="e" x="309.5" y="693.5">10</text>
<text class="e" x="309.5" y="727.8">0</text>
<text class="m" x="342" y="736">IgG</text>
<text class="m" x="378" y="736">a-Ly6G</text>
<path class="br" d="M329,682 V588 H394 V673"/>
<path d="M348.5,588 V597" stroke="#666" stroke-width="1.6"/>
<text class="s" x="338" y="589">*</text>
<text class="s" x="370" y="589">*</text>
</svg>
</body></html>
